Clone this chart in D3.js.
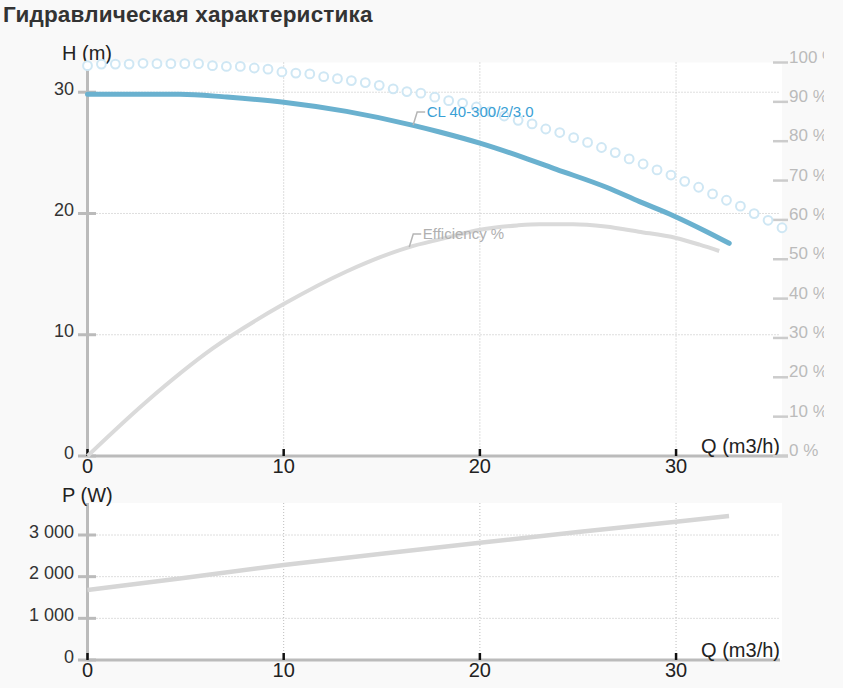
<!DOCTYPE html>
<html>
<head>
<meta charset="utf-8">
<script src="https://cdn.jsdelivr.net/npm/d3@7"></script>
<style>
  body { margin: 0; background: #f9f9f9; }
  text { font-family: "Liberation Sans", Arial, sans-serif; }
</style>
</head>
<body>
<div id="chart"></div>
<script>
// head curve H(Q)
var headQ = [0, 2.5, 4.7, 7.1, 10, 13.2, 16.6, 18, 20, 22.2, 23.9, 26.45, 28.14, 29.86, 31.56, 32.71];
var headH = [29.84, 29.84, 29.84, 29.6, 29.18, 28.42, 27.27, 26.7, 25.8, 24.63, 23.64, 22.16, 20.98, 19.82, 18.5, 17.54];

// efficiency curve, %
var effQ = [0, 3, 6.4, 10, 13.2, 16.4, 18, 20, 21.9, 23.05, 24.75, 26.4, 28.1, 30, 31.2, 32.2];
var effV = [0, 13.8, 27.4, 38.6, 46.9, 53.1, 55.1, 57.5, 58.6, 58.9, 58.9, 58.3, 57.0, 55.4, 53.7, 52.1];

// dotted series (circle markers), read on the % axis
var dotQ = [0, 0.71, 1.42, 2.12, 2.83, 3.54, 4.25, 4.96, 5.66, 6.37, 7.08, 7.79, 8.5, 9.2, 9.91,
            10.62, 11.33, 12.04, 12.74, 13.45, 14.16, 14.87, 15.58, 16.28, 16.99, 17.7, 18.41,
            19.12, 19.82, 20.53, 21.24, 21.95, 22.66, 23.36, 24.07, 24.78, 25.49, 26.2, 26.9,
            27.61, 28.32, 29.03, 29.74, 30.44, 31.15, 31.86, 32.57, 33.28, 33.98, 34.69, 35.4];
var dotV = [99.2, 99.6, 99.6, 99.6, 99.8, 99.7, 99.7, 99.7, 99.7, 99.2, 99.0, 99.0, 98.6, 98.3, 97.6,
            97.3, 97.1, 96.4, 95.9, 95.4, 94.9, 94.2, 93.3, 92.6, 92.2, 91.2, 90.3,
            89.7, 88.7, 87.5, 86.4, 85.3, 84.4, 83.1, 82.2, 80.9, 79.7, 78.4, 77.1,
            75.5, 74.2, 72.7, 71.4, 69.8, 68.3, 66.6, 65.0, 63.5, 61.6, 59.9, 58.0];

// power curve P(Q), W
var powQ = [0, 5, 10, 15, 20, 25, 30, 32.7];
var powP = [1680, 1975, 2280, 2550, 2815, 3070, 3320, 3456];

// ticks
var qTicks = [0, 10, 20, 30];
var hTicks = [0, 10, 20, 30];
var pctTicks = [0, 10, 20, 30, 40, 50, 60, 70, 80, 90, 100];
var pTicks = [0, 1000, 2000, 3000];

// curve labels and the point where their leader starts
var headName = "CL 40-300/2/3.0";
var headLabelAt = [16.6, 27.3];
var effName = "Efficiency %";
var effLabelAt = [16.4, 53.1];

var W = 843, H = 688;
var left = 87.5, right = 782;
var top1 = 62.5, bot1 = 456;
var top2 = 503, bot2 = 660;

var svg = d3.select("#chart")
  .append("svg")
    .attr("width", W)
    .attr("height", H);

svg.append("rect").attr("width", W).attr("height", H).attr("fill", "#f9f9f9");

// title
svg.append("text")
  .attr("x", 3)
  .attr("y", 22)
  .attr("font-size", 22.5)
  .attr("letter-spacing", 0.2)
  .attr("font-weight", "bold")
  .attr("fill", "#333")
  .text("Гидравлическая характеристика");

// scales
var x = d3.scaleLinear().domain([0, 35.4]).range([left, right]);
var yH = d3.scaleLinear().domain([0, 32.45]).range([bot1, top1]);
var yPct = d3.scaleLinear().domain([0, 100]).range([bot1, top1]);
var yP = d3.scaleLinear().domain([0, 3768]).range([bot2, top2]);

// plot backgrounds
svg.append("rect").attr("x", left).attr("y", top1)
  .attr("width", right - left).attr("height", bot1 - top1).attr("fill", "#fff");
svg.append("rect").attr("x", left).attr("y", top2)
  .attr("width", right - left).attr("height", bot2 - top2).attr("fill", "#fff");

// grid helper
function grid(g, yScale, yTicks, yTop, yBot) {
  g.selectAll(".vg")
    .data(qTicks.filter(function(d) { return d > 0; }))
    .enter().append("line")
      .attr("x1", function(d) { return x(d); })
      .attr("x2", function(d) { return x(d); })
      .attr("y1", yTop).attr("y2", yBot);
  g.selectAll(".hg")
    .data(yTicks.filter(function(d) { return d > 0; }))
    .enter().append("line")
      .attr("x1", left).attr("x2", 779)
      .attr("y1", function(d) { return yScale(d); })
      .attr("y2", function(d) { return yScale(d); });
  g.selectAll("line")
    .attr("stroke", "#bdbdbd")
    .attr("stroke-width", 1)
    .attr("stroke-dasharray", "1,2");
}

grid(svg.append("g"), yH, hTicks, top1, bot1);
grid(svg.append("g"), yP, pTicks, top2, bot2);

// left axis with thick gray ticks
function leftAxis(yScale, ticks, fmt, yTop, yBot) {
  var g = svg.append("g");
  g.append("line")
    .attr("x1", left).attr("x2", left)
    .attr("y1", yTop).attr("y2", yBot)
    .attr("stroke", "#bbb").attr("stroke-width", 3);
  g.selectAll(".t")
    .data(ticks)
    .enter().append("line")
      .attr("x1", 78).attr("x2", 96)
      .attr("y1", function(d) { return yScale(d); })
      .attr("y2", function(d) { return yScale(d); })
      .attr("stroke", "#bbb").attr("stroke-width", 3);
  g.selectAll("text")
    .data(ticks)
    .enter().append("text")
      .attr("x", 74)
      .attr("y", function(d) { return yScale(d) + 2.5; })
      .attr("text-anchor", "end")
      .attr("font-size", 18)
      .attr("fill", "#333")
      .text(fmt);
}

// bottom axis with short black ticks
function bottomAxis(yPos, xEnd) {
  var g = svg.append("g");
  g.append("line")
    .attr("x1", left).attr("x2", xEnd)
    .attr("y1", yPos).attr("y2", yPos)
    .attr("stroke", "#bbb").attr("stroke-width", 3);
  g.selectAll(".t")
    .data(qTicks)
    .enter().append("line")
      .attr("x1", function(d) { return x(d); })
      .attr("x2", function(d) { return x(d); })
      .attr("y1", yPos - 7).attr("y2", yPos)
      .attr("stroke", "#111").attr("stroke-width", 2.5);
  g.selectAll("text")
    .data(qTicks)
    .enter().append("text")
      .attr("x", function(d) { return x(d); })
      .attr("y", yPos + 17)
      .attr("text-anchor", "middle")
      .attr("font-size", 20)
      .attr("fill", "#222")
      .text(function(d) { return d; });
  g.append("text")
    .attr("x", 780)
    .attr("y", yPos - 3)
    .attr("text-anchor", "end")
    .attr("font-size", 20)
    .attr("fill", "#222")
    .text("Q (m3/h)");
}

var spaceFmt = function(d) { return d3.format(",")(d).replace(/,/g, " "); };

leftAxis(yH, hTicks, function(d) { return d; }, top1, bot1);
leftAxis(yP, pTicks, spaceFmt, top2, bot2);
bottomAxis(bot1, 788);
bottomAxis(bot2, 780);

svg.append("text").attr("x", 62).attr("y", 60)
  .attr("font-size", 20).attr("fill", "#222").text("H (m)");
svg.append("text").attr("x", 62).attr("y", 502)
  .attr("font-size", 20).attr("fill", "#222").text("P (W)");

// right % axis, clipped at the page edge
svg.append("clipPath").attr("id", "rclip")
  .append("rect").attr("x", 760).attr("y", 0).attr("width", 64).attr("height", 480);
var ra = svg.append("g").attr("clip-path", "url(#rclip)");
ra.selectAll("line")
  .data(pctTicks)
  .enter().append("line")
    .attr("x1", 773).attr("x2", 788)
    .attr("y1", function(d) { return yPct(d); })
    .attr("y2", function(d) { return yPct(d); })
    .attr("stroke", "#ccc").attr("stroke-width", 2.5);
ra.selectAll("text")
  .data(pctTicks)
  .enter().append("text")
    .attr("x", 789)
    .attr("y", function(d) { return yPct(d); })
    .attr("font-size", 17)
    .attr("fill", "#bbb")
    .text(function(d) { return d + " %"; });

// dotted series
var dots = d3.zip(dotQ, dotV);
svg.append("g").selectAll("circle")
  .data(dots)
  .enter().append("circle")
    .attr("cx", function(d) { return x(d[0]); })
    .attr("cy", function(d) { return yPct(d[1]); })
    .attr("r", 4.4)
    .attr("fill", "#fff")
    .attr("stroke", "#cfe7f4")
    .attr("stroke-width", 2);

// efficiency
var effLine = d3.line()
  .x(function(d) { return x(d[0]); })
  .y(function(d) { return yPct(d[1]); })
  .curve(d3.curveMonotoneX);
svg.append("path")
  .datum(d3.zip(effQ, effV))
  .attr("d", effLine)
  .attr("fill", "none")
  .attr("stroke", "#dadada")
  .attr("stroke-width", 4);

// head
var headLine = d3.line()
  .x(function(d) { return x(d[0]); })
  .y(function(d) { return yH(d[1]); })
  .curve(d3.curveMonotoneX);
svg.append("path")
  .datum(d3.zip(headQ, headH))
  .attr("d", headLine)
  .attr("fill", "none")
  .attr("stroke", "#6ab1cf")
  .attr("stroke-width", 5)
  .attr("stroke-linecap", "round");

// power
var powLine = d3.line()
  .x(function(d) { return x(d[0]); })
  .y(function(d) { return yP(d[1]); });
svg.append("path")
  .datum(d3.zip(powQ, powP))
  .attr("d", powLine)
  .attr("fill", "none")
  .attr("stroke", "#d6d6d6")
  .attr("stroke-width", 4.5);

// curve labels with small leader lines
function curveLabel(px, py, name, color) {
  var ly = py - 13;
  svg.append("path")
    .attr("d", "M" + px + "," + py + "L" + (px + 4) + "," + ly + "L" + (px + 12) + "," + ly)
    .attr("fill", "none")
    .attr("stroke", "#b5b5b5")
    .attr("stroke-width", 1.5);
  svg.append("text")
    .attr("x", px + 13.5)
    .attr("y", ly + 5)
    .attr("font-size", 15)
    .attr("fill", color)
    .text(name);
}

curveLabel(x(headLabelAt[0]), yH(headLabelAt[1]), headName, "#3aa0d5");
curveLabel(x(effLabelAt[0]), yPct(effLabelAt[1]), effName, "#b0b0b0");
</script>
</body>
</html>
